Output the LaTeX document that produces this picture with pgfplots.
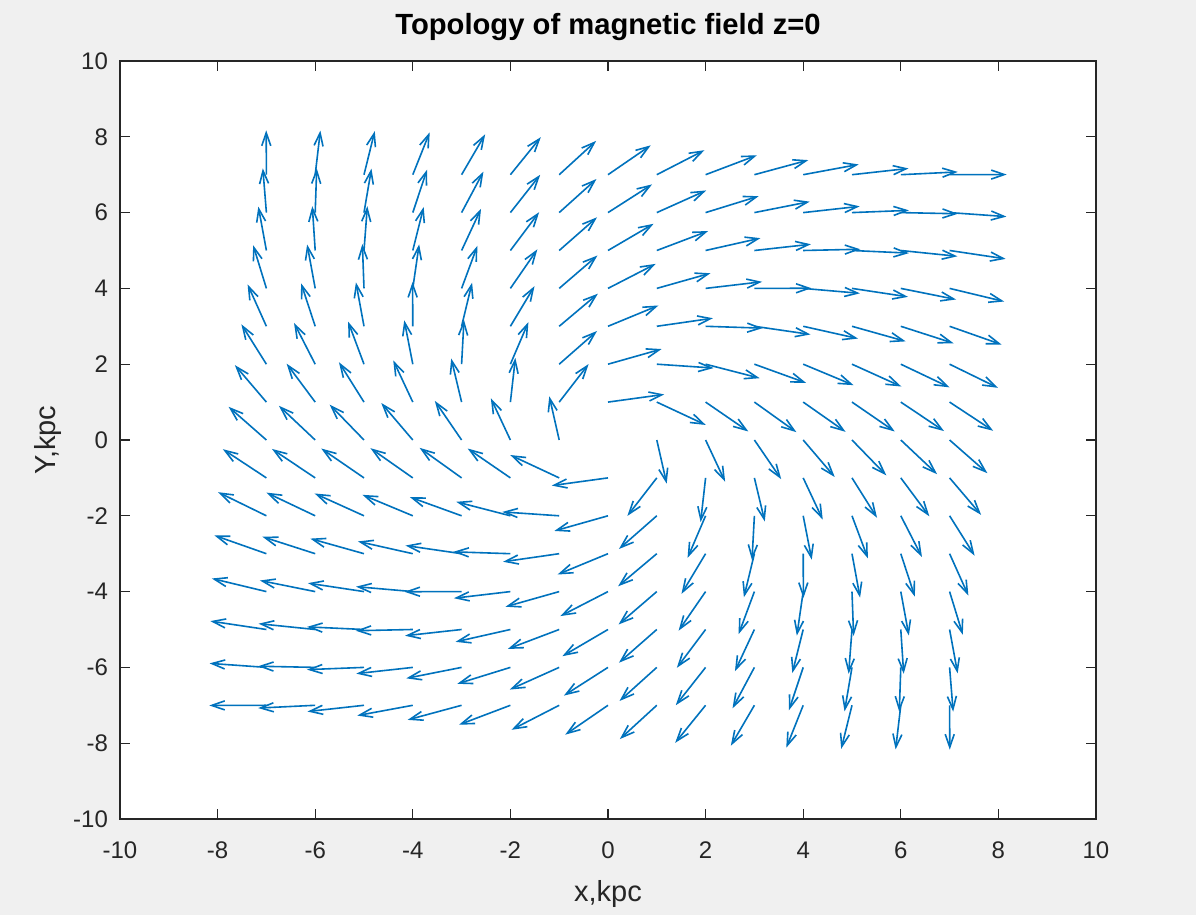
\documentclass[border=0pt]{standalone}
\usepackage{pgfplots}
\pgfplotsset{compat=1.18}
\usepackage{pgfplotstable}
\usepackage{fontspec}
\setmainfont{Liberation Sans}
\usetikzlibrary{arrows.meta}
\definecolor{figbg}{RGB}{240,240,240}
\definecolor{mblue}{rgb}{0,0.447,0.741}
\definecolor{axgray}{rgb}{0.15,0.15,0.15}

\pgfplotstableread{
x y u v
1 0 0.203 -1.152
1 1 1.003 -0.603
1 2 1.166 -0.102
1 3 1.150 0.213
1 4 1.099 0.400
1 5 1.052 0.513
1 6 1.013 0.585
1 7 0.976 0.646
2 0 0.400 -1.099
2 1 0.876 -0.775
2 2 1.110 -0.369
2 3 1.169 -0.049
2 4 1.157 0.175
2 5 1.124 0.326
2 6 1.087 0.433
2 7 1.052 0.513
3 0 0.549 -1.033
3 1 0.860 -0.793
3 2 1.060 -0.494
3 3 1.150 -0.215
3 4 1.170 0.004
3 5 1.158 0.165
3 6 1.134 0.289
3 7 1.105 0.385
4 0 0.646 -0.976
4 1 0.868 -0.784
4 2 1.031 -0.553
4 3 1.124 -0.324
4 4 1.163 -0.130
4 5 1.170 0.033
4 6 1.158 0.165
4 7 1.138 0.271
5 0 0.704 -0.934
5 1 0.876 -0.775
5 2 1.011 -0.589
5 3 1.100 -0.398
5 4 1.148 -0.223
5 5 1.168 -0.069
5 6 1.168 0.059
5 7 1.158 0.165
6 0 0.744 -0.903
6 1 0.886 -0.764
6 2 0.998 -0.611
6 3 1.081 -0.448
6 4 1.133 -0.293
6 5 1.160 -0.153
6 6 1.170 -0.031
6 7 1.168 0.073
7 0 0.775 -0.876
7 1 0.892 -0.757
7 2 0.990 -0.623
7 3 1.066 -0.483
7 4 1.118 -0.346
7 5 1.149 -0.221
7 6 1.165 -0.106
7 7 1.170 0.004
0 1 1.152 0.203
-1 1 0.603 1.003
-2 1 0.102 1.166
-3 1 -0.213 1.150
-4 1 -0.400 1.099
-5 1 -0.513 1.052
-6 1 -0.585 1.013
-7 1 -0.646 0.976
0 2 1.099 0.400
-1 2 0.775 0.876
-2 2 0.369 1.110
-3 2 0.049 1.169
-4 2 -0.175 1.157
-5 2 -0.326 1.124
-6 2 -0.433 1.087
-7 2 -0.513 1.052
0 3 1.033 0.549
-1 3 0.793 0.860
-2 3 0.494 1.060
-3 3 0.215 1.150
-4 3 -0.004 1.170
-5 3 -0.165 1.158
-6 3 -0.289 1.134
-7 3 -0.385 1.105
0 4 0.976 0.646
-1 4 0.784 0.868
-2 4 0.553 1.031
-3 4 0.324 1.124
-4 4 0.130 1.163
-5 4 -0.033 1.170
-6 4 -0.165 1.158
-7 4 -0.271 1.138
0 5 0.934 0.704
-1 5 0.775 0.876
-2 5 0.589 1.011
-3 5 0.398 1.100
-4 5 0.223 1.148
-5 5 0.069 1.168
-6 5 -0.059 1.168
-7 5 -0.165 1.158
0 6 0.903 0.744
-1 6 0.764 0.886
-2 6 0.611 0.998
-3 6 0.448 1.081
-4 6 0.293 1.133
-5 6 0.153 1.160
-6 6 0.031 1.170
-7 6 -0.073 1.168
0 7 0.876 0.775
-1 7 0.757 0.892
-2 7 0.623 0.990
-3 7 0.483 1.066
-4 7 0.346 1.118
-5 7 0.221 1.149
-6 7 0.106 1.165
-7 7 -0.004 1.170
-1 0 -0.203 1.152
-1 -1 -1.003 0.603
-1 -2 -1.166 0.102
-1 -3 -1.150 -0.213
-1 -4 -1.099 -0.400
-1 -5 -1.052 -0.513
-1 -6 -1.013 -0.585
-1 -7 -0.976 -0.646
-2 0 -0.400 1.099
-2 -1 -0.876 0.775
-2 -2 -1.110 0.369
-2 -3 -1.169 0.049
-2 -4 -1.157 -0.175
-2 -5 -1.124 -0.326
-2 -6 -1.087 -0.433
-2 -7 -1.052 -0.513
-3 0 -0.549 1.033
-3 -1 -0.860 0.793
-3 -2 -1.060 0.494
-3 -3 -1.150 0.215
-3 -4 -1.170 -0.004
-3 -5 -1.158 -0.165
-3 -6 -1.134 -0.289
-3 -7 -1.105 -0.385
-4 0 -0.646 0.976
-4 -1 -0.868 0.784
-4 -2 -1.031 0.553
-4 -3 -1.124 0.324
-4 -4 -1.163 0.130
-4 -5 -1.170 -0.033
-4 -6 -1.158 -0.165
-4 -7 -1.138 -0.271
-5 0 -0.704 0.934
-5 -1 -0.876 0.775
-5 -2 -1.011 0.589
-5 -3 -1.100 0.398
-5 -4 -1.148 0.223
-5 -5 -1.168 0.069
-5 -6 -1.168 -0.059
-5 -7 -1.158 -0.165
-6 0 -0.744 0.903
-6 -1 -0.886 0.764
-6 -2 -0.998 0.611
-6 -3 -1.081 0.448
-6 -4 -1.133 0.293
-6 -5 -1.160 0.153
-6 -6 -1.170 0.031
-6 -7 -1.168 -0.073
-7 0 -0.775 0.876
-7 -1 -0.892 0.757
-7 -2 -0.990 0.623
-7 -3 -1.066 0.483
-7 -4 -1.118 0.346
-7 -5 -1.149 0.221
-7 -6 -1.165 0.106
-7 -7 -1.170 -0.004
0 -1 -1.152 -0.203
1 -1 -0.603 -1.003
2 -1 -0.102 -1.166
3 -1 0.213 -1.150
4 -1 0.400 -1.099
5 -1 0.513 -1.052
6 -1 0.585 -1.013
7 -1 0.646 -0.976
0 -2 -1.099 -0.400
1 -2 -0.775 -0.876
2 -2 -0.369 -1.110
3 -2 -0.049 -1.169
4 -2 0.175 -1.157
5 -2 0.326 -1.124
6 -2 0.433 -1.087
7 -2 0.513 -1.052
0 -3 -1.033 -0.549
1 -3 -0.793 -0.860
2 -3 -0.494 -1.060
3 -3 -0.215 -1.150
4 -3 0.004 -1.170
5 -3 0.165 -1.158
6 -3 0.289 -1.134
7 -3 0.385 -1.105
0 -4 -0.976 -0.646
1 -4 -0.784 -0.868
2 -4 -0.553 -1.031
3 -4 -0.324 -1.124
4 -4 -0.130 -1.163
5 -4 0.033 -1.170
6 -4 0.165 -1.158
7 -4 0.271 -1.138
0 -5 -0.934 -0.704
1 -5 -0.775 -0.876
2 -5 -0.589 -1.011
3 -5 -0.398 -1.100
4 -5 -0.223 -1.148
5 -5 -0.069 -1.168
6 -5 0.059 -1.168
7 -5 0.165 -1.158
0 -6 -0.903 -0.744
1 -6 -0.764 -0.886
2 -6 -0.611 -0.998
3 -6 -0.448 -1.081
4 -6 -0.293 -1.133
5 -6 -0.153 -1.160
6 -6 -0.031 -1.170
7 -6 0.073 -1.168
0 -7 -0.876 -0.775
1 -7 -0.757 -0.892
2 -7 -0.623 -0.990
3 -7 -0.483 -1.066
4 -7 -0.346 -1.118
5 -7 -0.221 -1.149
6 -7 -0.106 -1.165
7 -7 0.004 -1.170
}\fieldtable

\begin{document}
\begin{tikzpicture}
\fill[figbg] (-60pt,-48pt) rectangle (538pt,409.5pt);
\useasboundingbox (-60pt,-48pt) rectangle (538pt,409.5pt);
\begin{axis}[
  scale only axis,
  width=488pt, height=379pt,
  xmin=-10, xmax=10, ymin=-10, ymax=10,
  xtick={-10,-8,...,10}, ytick={-10,-8,...,10},
  tick align=inside,
  major tick length=5pt,
  axis background/.style={fill=white},
  axis line style={draw=axgray, line width=0.6pt},
  tick style={draw=axgray, line width=0.6pt},
  /pgf/number format/assume math mode=true,
  ticklabel style={font=\fontsize{12}{14}\selectfont, text=axgray},
  xticklabel style={yshift=-8pt},
  yticklabel style={xshift=-2.5pt},
  xlabel={x,kpc}, ylabel={Y,kpc},
  xlabel style={at={(axis description cs:0.5,-0.0985)}, anchor=center, font=\fontsize{14.5}{16}\selectfont, text=axgray},
  ylabel style={at={(axis description cs:-0.0733,0.5)}, anchor=center, font=\fontsize{14.5}{16}\selectfont, text=axgray},
  title={Topology of magnetic field z=0},
  title style={at={(axis description cs:0.5,1.029)}, anchor=center, font=\bfseries\fontsize{14.6}{17}\selectfont, text=black},
]
\addplot[mblue, line width=0.8pt,
  quiver={u=\thisrow{u}, v=\thisrow{v}},
  -{Straight Barb[length=6.5pt,width=4.5pt]}]
  table[x=x, y=y] {\fieldtable};
\end{axis}
\end{tikzpicture}
\end{document}
